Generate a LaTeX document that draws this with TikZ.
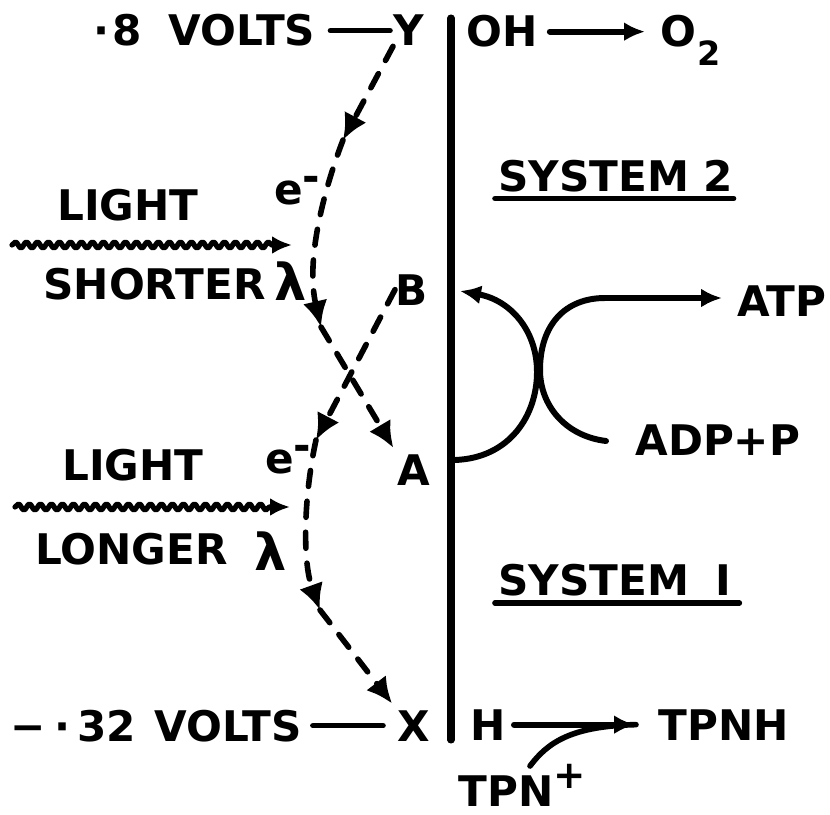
\documentclass[tikz,border=0pt]{standalone}
\usepackage{fontspec}
\setmainfont{DejaVu Sans}
\usetikzlibrary{arrows.meta,decorations.pathmorphing}
\tikzstyle{every node}=[font=\fontsize{24}{28}\selectfont\bfseries,inner sep=0pt,anchor=base west]
\tikzstyle{every path}=[line cap=round,line join=round]
\tikzstyle{tie}=[line width=3.2pt]
\tikzstyle{reac}=[line width=3.4pt,-{Latex[length=0.42cm,width=0.38cm]}]
\tikzstyle{elflow}=[line width=3.2pt,dash pattern=on 0.32cm off 0.3cm,-{Latex[length=0.52cm,width=0.5cm]}]
\tikzstyle{lightwave}=[line width=3pt,decorate,decoration={snake,segment length=0.22cm,amplitude=0.06cm,post length=0.4cm},-{Latex[length=0.4cm,width=0.36cm]}]

\begin{document}
\begin{tikzpicture}[x=0.02cm,y=-0.02cm]
% Photosynthesis scheme, units are pixels of the sketch
	\useasboundingbox (0,0) rectangle (830,814);
	\coordinate (memT) at (451,18); %memT= membrane top
	\coordinate (memB) at (451,740); %memB= membrane bottom
	\draw [line width=4pt] (memT) -- (memB);
	%Potentials
	\node (v8) at (93,46) {·\kern2pt8\hspace{0.62em}VOLTS};
	\node (Y) at (393,46) {Y};
	\draw [tie, shorten <=0.3cm, shorten >=0.06cm] (v8.east) -- (v8.east -| Y.west);
	\node (v32) at (10,741) {−\hspace{0.2em}·\kern4pt32\hspace{0.45em}VOLTS};
	\node (X) at (397,741) {X};
	\draw [tie, shorten <=0.22cm, shorten >=0.28cm] (v32.east) -- (v32.east -| X.west);
	%Water side
	\node (oh) at (466,47) {OH};
	\node (o2) at (660,47) {O\kern0.5pt\raisebox{-10.5pt}{\fontsize{19}{20}\selectfont 2}};
	\draw [reac, shorten <=0.24cm, shorten >=0.3cm] (oh.east) -- (oh.east -| o2.west);
	%System labels
	\node (sys2) at (498,191) {SYSTEM 2};
	\draw [tie] ([xshift=-0.06cm, yshift=-0.15cm]sys2.base west) -- ([yshift=-0.15cm]sys2.base east);
	\node (sys1) at (498,595) {SYSTEM\hspace{0.62em}I};
	\draw [tie] ([xshift=-0.06cm, yshift=-0.16cm]sys1.base west) -- ([xshift=0.16cm, yshift=-0.16cm]sys1.base east);
	%Light, shorter wave length
	\node (light1) at (57,220) {LIGHT};
	\coordinate (w1L) at (12,245); %w1L= wave 1 left end
	\coordinate (w1R) at (292,245); %w1R= wave 1 right end
	\draw [lightwave] (w1L) -- (w1R);
	\node (shorter) at (43,299) {SHORTER};
	\node (lam1) at (274,300) {\fontsize{29}{30}\selectfont λ};
	\node (e1) at (274,204) {e\raisebox{7pt}{-}};
	%Light, longer wave length
	\node (light2) at (62,480) {LIGHT};
	\coordinate (w2L) at (15,507); %w2L= wave 2 left end
	\coordinate (w2R) at (290,507); %w2R= wave 2 right end
	\draw [lightwave] (w2L) -- (w2R);
	\node (longer) at (35,564) {LONGER};
	\node (lam2) at (254,570) {\fontsize{29}{30}\selectfont λ};
	\node (e2) at (265,473) {e\raisebox{7pt}{-}};
	%Carriers
	\node (B) at (395,305) {B};
	\node (A) at (397,485) {A};
	%Electron flow Y to A
	\coordinate (m1) at (343,140);
	\coordinate (m2) at (321,327);
	\draw [elflow] (Y.south west) -- (m1);
	\draw [elflow] (m1) .. controls (322,195) and (306,262) .. (m2);
	\draw [elflow, shorten >=0.14cm] (m2) -- (A.north west);
	%Electron flow B to X
	\coordinate (m3) at (316,440);
	\coordinate (m4) at (320,610);
	\draw [elflow] (B.west) -- (m3);
	\draw [elflow] (m3) .. controls (304,495) and (302,560) .. (m4);
	\draw [elflow, shorten >=0.16cm] (m4) -- (X.north west);
	%Phosphorylation
	\node (atp) at (737,316) {ATP};
	\node (adp) at (635,455) {ADP+P};
	\coordinate (cA) at (455,460); %cA= curve leaves membrane at A
	\coordinate (cB) at (460,291); %cB= curve ends at B
	\draw [reac] (cA) .. controls (510,458) and (537,415) .. (537,372) .. controls (537,330) and (510,300) .. (cB);
	\coordinate (cP) at (606,441); %cP= curve starts at ADP+P
	\coordinate (cT) at (722,298); %cT= arrow reaches ATP
	\draw [reac] (cP) .. controls (565,436) and (540,405) .. (540,370) .. controls (540,325) and (565,298) .. (605,298) -- (cT);
	%Reducing side
	\node (H) at (470,740) {H};
	\node (tpnh) at (658,740) {TPNH};
	\draw [reac, shorten <=0.16cm, shorten >=0.46cm] (H.east) -- (H.east -| tpnh.west);
	\node (tpn) at (458,806) {TPN\raisebox{10pt}{\fontsize{22}{24}\selectfont +}};
	\coordinate (tpnS) at (530,766); %tpnS= start above TPN
	\path (H.east) ++(130,0) coordinate (tpnJ); %tpnJ= joins the H arrow
	\draw [tie] (tpnS) .. controls (548,742) and (572,726) .. (tpnJ);
\end{tikzpicture}
\end{document}
